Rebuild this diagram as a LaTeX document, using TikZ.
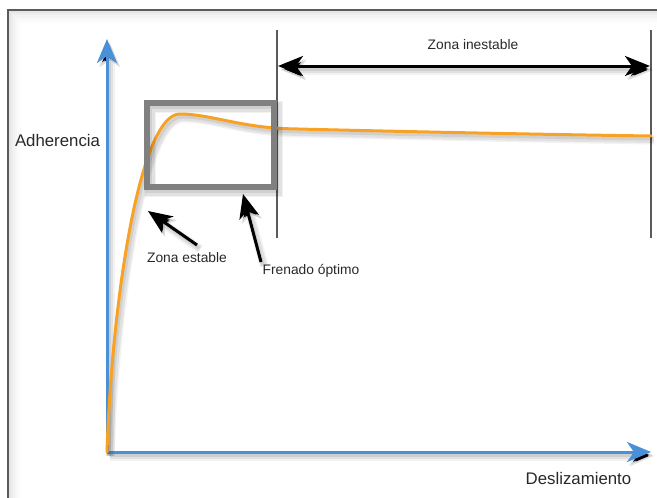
\documentclass[tikz,border=0pt]{standalone}
\usepackage{fontspec}
\setmainfont{Liberation Sans}
\usetikzlibrary{arrows.meta,calc}

\definecolor{axisblue}{RGB}{74,144,217}
\definecolor{curveorange}{RGB}{247,162,36}
\definecolor{boxgray}{RGB}{128,128,128}
\definecolor{inkgray}{RGB}{40,40,40}
\definecolor{rulegray}{RGB}{90,90,90}

\tikzset{
  dropshadow/.style={
    preaction={draw=black,draw opacity=0.05,line width=#1+6pt,
      transform canvas={xshift=3pt,yshift=-4pt}},
    preaction={draw=black,draw opacity=0.07,line width=#1+3pt,
      transform canvas={xshift=3pt,yshift=-4pt}},
    preaction={draw=black,draw opacity=0.08,line width=#1,
      transform canvas={xshift=2pt,yshift=-3pt}},
    line width=#1},
  axis/.style={draw=axisblue,dropshadow=3pt,
    -{Stealth[length=24pt,width=20pt,inset=7pt]}},
  pointer/.style={draw=black,dropshadow=3pt,
    -{Stealth[length=24pt,width=20pt,inset=7pt]}},
  span/.style={draw=black,dropshadow=3pt,
    {Stealth[length=25pt,width=20pt,inset=7pt]}-{Stealth[length=25pt,width=20pt,inset=7pt]}},
  limit/.style={draw=rulegray,line width=1.2pt},
  curve/.style={draw=curveorange,dropshadow=3pt,line cap=round,line join=round},
  zonebox/.style={draw=boxgray,line width=6.5pt,dropshadow=6.5pt,
    minimum width=127pt,minimum height=84pt,inner sep=0pt,outer sep=0pt},
  biglabel/.style={text=inkgray,font=\fontsize{16.8}{18}\selectfont,inner sep=0pt},
  smalllabel/.style={text=inkgray,font=\fontsize{13.8}{16}\selectfont,inner sep=0pt}
}

\begin{document}
\begin{tikzpicture}[x=1pt,y=-1pt]
  \useasboundingbox (0,0) rectangle (657,498);

  % frame with a soft inner shade along its top and left edges
  \foreach \d/\o in {2/0.10,4/0.07,6/0.05,8/0.035,10/0.02,12/0.01}
    \draw[draw=black,draw opacity=\o,line width=2pt]
      (8+\d,498) -- (8+\d,10+\d) -- (657,10+\d);
  \draw[draw=rulegray,line width=1.5pt] (8,498) -- (8,10) -- (657,10);

  % key points
  \coordinate (O) at (107,452);
  \coordinate (ytip) at (107,39);
  \coordinate (xtip) at (651,452);

  % limits of the unstable zone
  \coordinate (l1top) at (277,30);
  \coordinate (l1bot) at (277,238);
  \coordinate (l2top) at (651,30);
  \coordinate (l2bot) at (651,238);
  \draw[limit] (l1top) -- (l1bot);
  \draw[limit] (l2top) -- (l2bot);
  \coordinate (spanL) at (278,66);
  \coordinate (spanR) at (650,66);
  \draw[span] (spanL) -- (spanR);
  \node[smalllabel] (inest) at (473,45) {Zona inestable};

  % axes
  \draw[axis] (O) -- (ytip);
  \draw[axis] (O) -- (xtip);
  \node[biglabel] (adh) at (57.5,140) {Adherencia};
  \node[biglabel] (desl) at (578.5,478) {Deslizamiento};

  % friction curve: steep rise, peak, slow decay
  \coordinate (peak) at (180,114);
  \coordinate (knee) at (290,128.8);
  \coordinate (tail) at (651,136);
  \draw[curve] (O) .. controls (112,300) and (140,114) .. (peak)
    .. controls (210,114) and (240,127.5) .. (knee)
    .. controls (400,131.6) and (550,134.6) .. (tail);

  % optimal braking window
  \node[zonebox] (optbox) at (210.5,145) {};

  % callouts
  \node[smalllabel] (zest) at (187,258) {Zona estable};
  \node[smalllabel] (fren) at (311,271) {Frenado óptimo};
  \coordinate (zestTail) at (197,245);
  \coordinate (zestTip) at (148,211);
  \coordinate (frenTail) at (261,262);
  \coordinate (frenTip) at (243,194);
  \draw[pointer] (zestTail) -- (zestTip);
  \draw[pointer] (frenTail) -- (frenTip);
\end{tikzpicture}
\end{document}
